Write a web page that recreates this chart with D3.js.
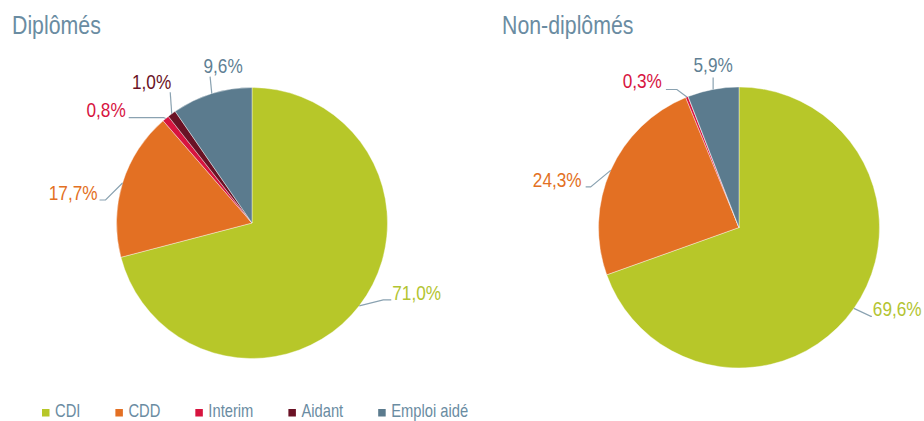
<!DOCTYPE html>
<html>
<head>
<meta charset="utf-8">
<script src="https://cdn.jsdelivr.net/npm/d3@7"></script>
<style>
	body { margin: 0; background: #fff; }
	svg { display: block; font-family: "Liberation Sans", Arial, sans-serif; }
</style>
</head>
<body>
<div id="wrapper"></div>
<script>
// data
const categories = ["CDI", "CDD", "Interim", "Aidant", "Emploi aidé"];
const diplomes = [71.0, 17.7, 0.8, 1.0, 9.6];
const nonDiplomes = [69.6, 24.3, 0.3, 0, 5.9];
const pieTitles = ["Diplômés", "Non-diplômés"];

const colors = ["#b7c729", "#e37023", "#d7143f", "#6a1225", "#5b7b8e"];
const labelColors = ["#b3c431", "#e37023", "#d7143f", "#6a1225", "#5f7f94"];
const greyBlue = "#6a8ca2";

const dimensions = { width: 924, height: 421 };
// no narrow font installed: squeeze Liberation Sans like Arial Narrow
const narrow = 0.82;

// layout of each pie: centre, radius, title, and label leaders
// leader: [elbowDx, elbowDy, tailDx, textDx, textDy, anchor]
const pies = [
	{
		values: diplomes,
		cx: 252, cy: 223, r: 135.5,
		titleX: 12,
		leaders: [
			[24, -6, 8, 1, 0.5, "start"],
			[-17, 17, -6, -2, 0.5, "end"],
			[-2, -1, -35, -3, -0.5, "end"],
			[-1.5, -21.5, 0, 1, -3.5, "end"],
			[-1.7, -17, 0, 13, -3.3, "middle"],
		],
	},
	{
		values: nonDiplomes,
		cx: 739, cy: 227.5, r: 140.5,
		titleX: 502,
		leaders: [
			[17, 8, 1, 1, 0, "start"],
			[-20, 16.5, -5, -4, 0.5, "end"],
			[-10, -7.5, -11, -4, -1.5, "end"],
			null,
			[0, -12, 0, 0, -5, "middle"],
		],
	},
];

const fr = d3.formatLocale({ decimal: ",", thousands: " ", grouping: [3], currency: ["", " €"] });
const fmt = (v) => fr.format(".1f")(v) + "%";

const svg = d3
	.select("#wrapper")
	.append("svg")
	.attr("width", dimensions.width)
	.attr("height", dimensions.height);

const addText = (parent, x, y, str, size, color, anchor = "start") =>
	parent
		.append("g")
		.attr("transform", `translate(${x}, ${y}) scale(${narrow}, 1)`)
		.append("text")
		.attr("text-anchor", anchor)
		.attr("fill", color)
		.style("font-size", `${size}px`)
		.text(str);

const pieGen = d3.pie().sort(null).value((d) => d);

pies.forEach((p, i) => {
	const g = svg.append("g").attr("transform", `translate(${p.cx}, ${p.cy})`);
	const arcs = pieGen(p.values);
	const arc = d3.arc().innerRadius(0).outerRadius(p.r);
	const edge = d3.arc().innerRadius(p.r).outerRadius(p.r);

	g.selectAll("path.slice")
		.data(arcs)
		.join("path")
		.attr("class", "slice")
		.attr("d", arc)
		.attr("fill", (d, j) => colors[j])
		.attr("stroke", "#fff")
		.attr("stroke-width", 0.4);

	// labels with leader lines
	arcs.forEach((d, j) => {
		const lead = p.leaders[j];
		if (d.value === 0 || !lead) return;
		const [px, py] = edge.centroid(d);
		const ex = px + lead[0];
		const ey = py + lead[1];
		const tx = ex + lead[2];
		g.append("polyline")
			.attr("points", `${px},${py} ${ex},${ey} ${tx},${ey}`)
			.attr("fill", "none")
			.attr("stroke", "#8aa2b1")
			.attr("stroke-width", 1.2);
		addText(g, tx + lead[3], ey + lead[4], fmt(d.value), 21, labelColors[j], lead[5]);
	});

	addText(svg, p.titleX, 33.5, pieTitles[i], 26, greyBlue);
});

// legend
const legend = svg.append("g").attr("transform", "translate(42, 417)");
let lx = 0;
categories.forEach((c, j) => {
	const item = legend.append("g").attr("transform", `translate(${lx}, 0)`);
	item.append("rect")
		.attr("x", 0)
		.attr("y", -8)
		.attr("width", 7.5)
		.attr("height", 7.5)
		.attr("fill", colors[j]);
	const t = addText(item, 13, 0, c, 18, greyBlue);
	lx += 13 + t.node().getComputedTextLength() * narrow + 35;
});
</script>
</body>
</html>
